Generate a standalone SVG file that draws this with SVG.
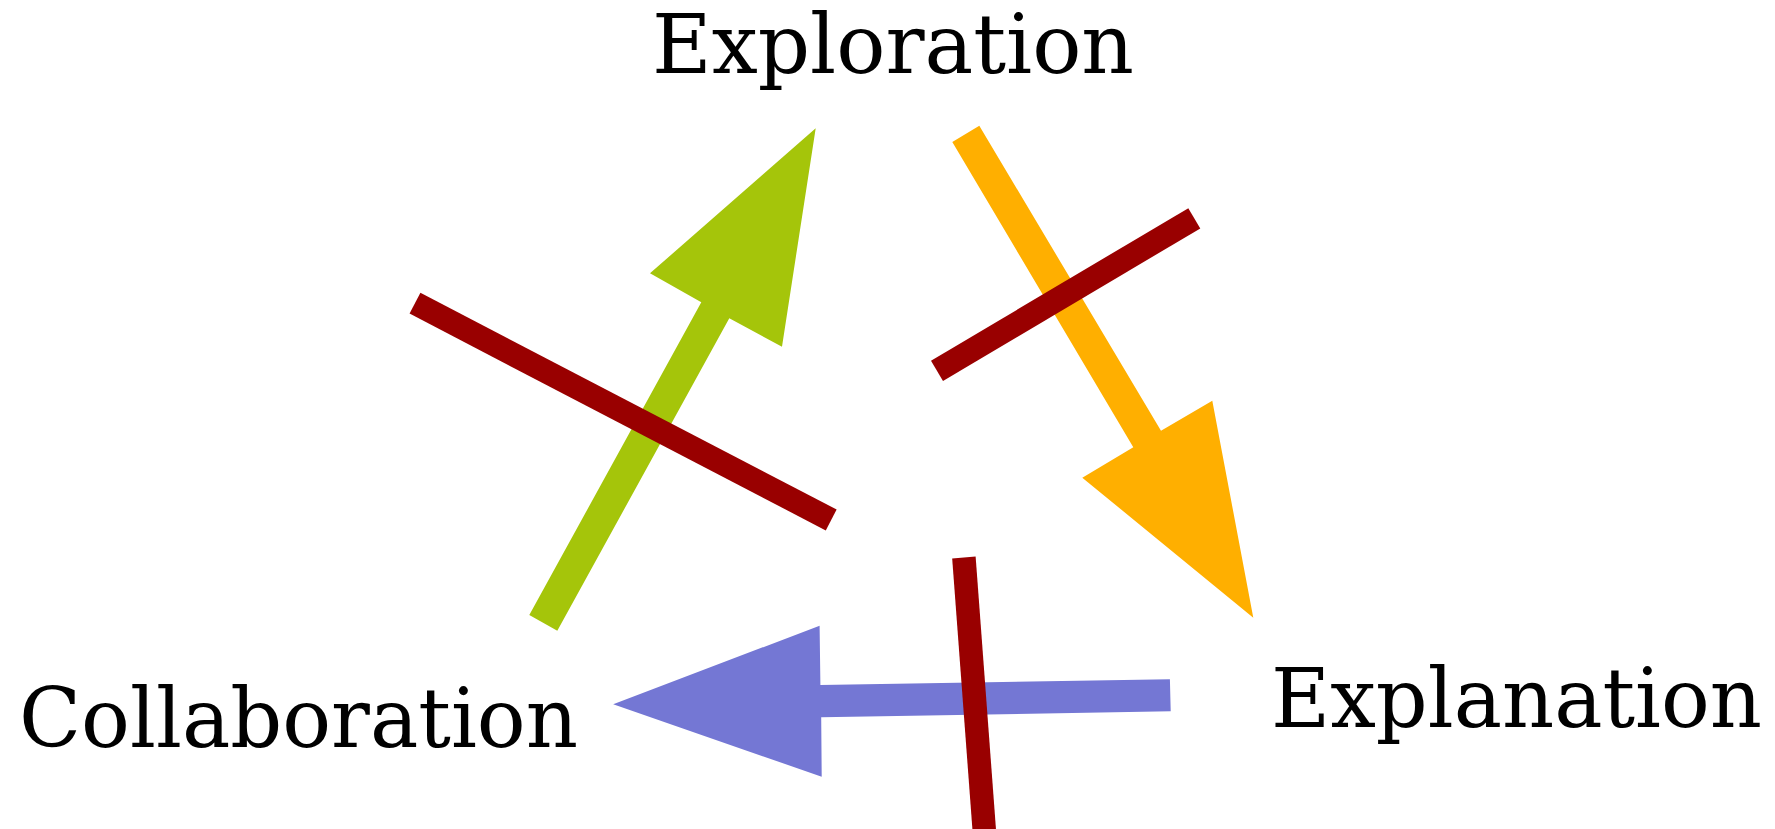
<svg xmlns="http://www.w3.org/2000/svg" width="1775" height="829" viewBox="0 0 1775 829">
<style>
.lbl{font-family:"DejaVu Serif","Liberation Serif",serif;font-size:82px;fill:#000}
.strike{stroke:#990000;stroke-width:23.5;stroke-linecap:butt;fill:none}
</style>
<rect width="1775" height="829" fill="#fff"/>
<g id="connectors">
<polygon id="arrow-collab-explor" fill="#a5c50a" points="529.3,615 701.3,302.3 650,273.3 815.7,128.3 782,346.7 729.3,318.3 557.3,630.7"/>
<polygon id="arrow-explor-expl" fill="#ffaf00" points="979.3,125.7 1161,430.7 1212.3,400.7 1253.3,617.7 1082.3,477.7 1133.3,447.3 952.3,142"/>
<polygon id="arrow-expl-collab" fill="#7477d4" points="1169.9,679.3 820.4,685 819.6,625.7 613.2,704.3 821.7,776.7 821.2,717.3 1170.7,711.3"/>
</g>
<g id="strikes">
<line class="strike" x1="415" y1="303.2" x2="831.2" y2="520"/>
<line class="strike" x1="937" y1="370.8" x2="1194.3" y2="218.3"/>
<line class="strike" x1="963.9" y1="557.5" x2="985" y2="840"/>
</g>
<g id="node-exploration"><text class="lbl" x="652" y="73" textLength="482" lengthAdjust="spacingAndGlyphs">Exploration</text></g>
<g id="node-collaboration"><text class="lbl" x="19" y="747" textLength="559" lengthAdjust="spacingAndGlyphs">Collaboration</text></g>
<g id="node-explanation"><text class="lbl" x="1271" y="727" textLength="491" lengthAdjust="spacingAndGlyphs">Explanation</text></g>
</svg>
